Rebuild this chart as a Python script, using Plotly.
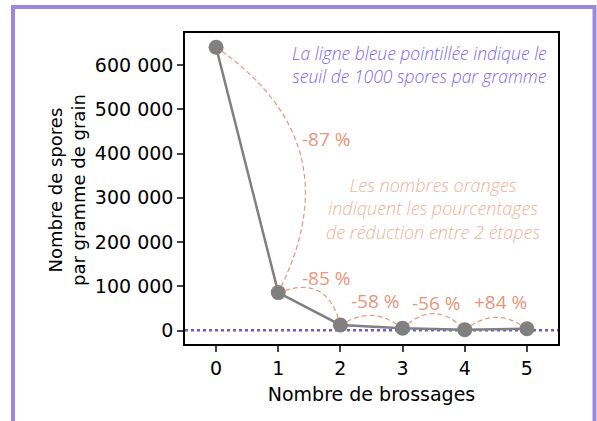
import plotly.graph_objects as go

# ---- data ----
brossages = [0, 1, 2, 3, 4, 5]
spores = [640000, 86000, 13000, 5500, 2400, 4400]
pourcentages = ["-87 %", "-85 %", "-58 %", "-56 %", "+84 %"]
seuil = 1000
ytick_vals = [0, 100000, 200000, 300000, 400000, 500000, 600000]
ytick_text = ["0", "100 000", "200 000", "300 000", "400 000", "500 000", "600 000"]
xtick_vals = [0, 1, 2, 3, 4, 5]

note_bleue = "La ligne bleue pointillée indique le<br>seuil de 1000 spores par gramme"
note_orange = "Les nombres oranges<br>indiquent les pourcentages<br>de réduction entre 2 étapes"

# ---- layout geometry (pixels) ----
W, H = 597, 421
L, R, T, B = 185, 39, 33, 77
XR = [-0.5, 5.5]
YR = [-30000, 672000]
PW, PH = W - L - R, H - T - B


def to_px(x, y):
    px = L + (x - XR[0]) / (XR[1] - XR[0]) * PW
    py = T + PH - (y - YR[0]) / (YR[1] - YR[0]) * PH
    return px, py


def to_data(px, py):
    x = XR[0] + (px - L) / PW * (XR[1] - XR[0])
    y = YR[0] + (T + PH - py) / PH * (YR[1] - YR[0])
    return x, y


def px_paper(px, py):
    return (px - L) / PW, (T + PH - py) / PH


ARC = "#e8967a"
LBL = "#e8967a"
ORANGE_TXT = "#f0b298"
BLUE_TXT = "#7b68ee"
DOT = "#6a5acd"
BORDER = "#9b87e0"

fig = go.Figure()

# threshold line
fig.add_trace(go.Scatter(
    x=XR, y=[seuil, seuil], mode="lines",
    line=dict(color=DOT, width=2.5, dash="dot"),
    hoverinfo="skip", showlegend=False))

# data line
fig.add_trace(go.Scatter(
    x=brossages, y=spores, mode="lines+markers",
    line=dict(color="#808080", width=2.5),
    marker=dict(color="#808080", size=15),
    showlegend=False))

# arcs (quadratic bezier, built in pixel space then mapped to data)
rads = [0.42, 0.5, 0.3, 0.42, 0.32]
shrink = 7
label_off = [(79, -31), (17, -31), (3.5, -26), (2.5, -26), (5, -27.5)]
shapes = []
annotations = []
for i in range(len(brossages) - 1):
    x0, y0 = to_px(brossages[i], spores[i])
    x1, y1 = to_px(brossages[i + 1], spores[i + 1])
    ay0, ay1 = -y0, -y1
    mx, my = (x0 + x1) / 2, (ay0 + ay1) / 2
    dx, dy = x1 - x0, ay1 - ay0
    r = rads[i]
    cx, cy = mx - r * dy, my + r * dx

    def mv(px, py):
        vx, vy = cx - px, cy - py
        n = (vx ** 2 + vy ** 2) ** 0.5
        return px + vx / n * shrink, py + vy / n * shrink

    sx0, sy0 = mv(x0, ay0)
    sx1, sy1 = mv(x1, ay1)
    a = to_data(sx0, -sy0)
    c = to_data(cx, -cy)
    b = to_data(sx1, -sy1)
    path = f"M {a[0]},{a[1]} Q {c[0]},{c[1]} {b[0]},{b[1]}"
    shapes.append(dict(type="path", path=path, xref="x", yref="y",
                       line=dict(color=ARC, width=1.2, dash="5px,3px")))
    lx, ly = to_data((x0 + x1) / 2 + label_off[i][0], (y0 + y1) / 2 + label_off[i][1])
    annotations.append(dict(x=lx, y=ly, xref="x", yref="y", text=pourcentages[i],
                            showarrow=False,
                            font=dict(family="Open Sans", size=19, color=LBL)))

# notes
bx, by = to_data(419, 64)
annotations.append(dict(x=bx, y=by, xref="x", yref="y", text=note_bleue,
                        showarrow=False, align="center",
                        font=dict(family="Open Sans", size=17.5, color=BLUE_TXT,
                                  style="italic", weight=300)))
ox, oy = to_data(433, 208)
annotations.append(dict(x=ox, y=oy, xref="x", yref="y", text=note_orange,
                        showarrow=False, align="center",
                        font=dict(family="Open Sans", size=18, color=ORANGE_TXT,
                                  style="italic", weight=300)))

# y title
tx, ty = px_paper(67, 190)
annotations.append(dict(x=tx, y=ty, xref="paper", yref="paper",
                        xanchor="center", yanchor="middle",
                        text="Nombre de spores<br>par gramme de grain",
                        textangle=-90, showarrow=False, align="center",
                        font=dict(family="DejaVu Sans", size=18, color="black")))

# figure border
bx0, by0 = px_paper(13, 450)
bx1, by1 = px_paper(594.5, 7)
shapes.append(dict(type="rect", xref="paper", yref="paper",
                   x0=bx0, x1=bx1, y0=by0, y1=by1,
                   line=dict(color=BORDER, width=4), layer="below"))

fig.update_layout(
    width=W, height=H,
    margin=dict(l=L, r=R, t=T, b=B),
    paper_bgcolor="white", plot_bgcolor="white",
    shapes=shapes, annotations=annotations,
    font=dict(family="DejaVu Sans", size=19, color="black"),
    xaxis=dict(range=XR, tickvals=xtick_vals, ticks="outside", ticklen=6,
               tickwidth=1.5, showline=True, linecolor="black", linewidth=1.5,
               mirror=True, showgrid=False, zeroline=False,
               title=dict(text="Nombre de brossages", standoff=10,
                          font=dict(size=19))),
    yaxis=dict(range=YR, tickvals=ytick_vals, ticktext=ytick_text,
               ticks="outside", ticklen=6, tickwidth=1.5, showline=True,
               linecolor="black", linewidth=1.5, mirror=True, showgrid=False,
               zeroline=False),
)

fig.write_html("out.html",
               config={"displayModeBar": False},
               post_script="document.body.style.margin='0px';"
                           "document.body.style.overflow='hidden';")
